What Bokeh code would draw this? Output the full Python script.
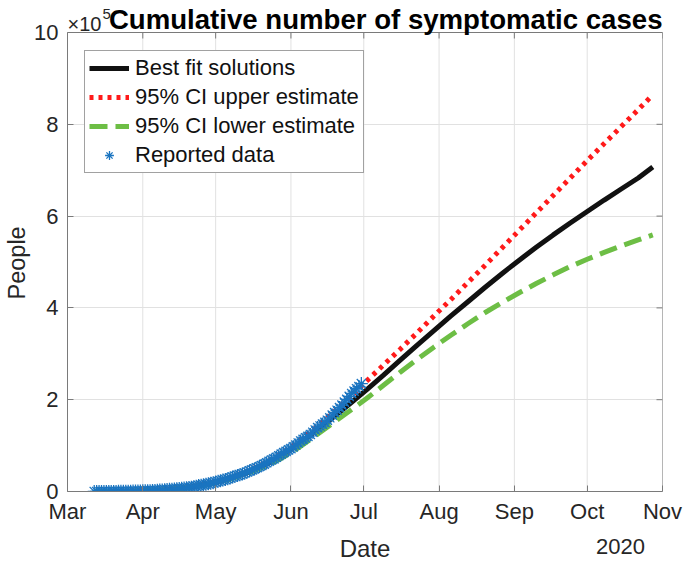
import numpy as np
import pandas as pd
from bokeh.plotting import figure
from bokeh.layouts import column
from bokeh.models import FixedTicker, Range1d, Legend, LegendItem, Title
from bokeh.core.properties import value
from bokeh.embed import file_html
from bokeh.resources import INLINE

# ---------------- data ----------------
report_start = "2020-03-12"
reported_cases = [
    12, 26, 41, 53, 82, 93, 118, 164, 203, 251, 316, 367, 405, 475, 585, 717, 848, 993, 1094, 1215,
    1378, 1510, 1688, 1890, 2143, 2439, 2785, 3181, 3441, 3844, 4219, 4661, 5014, 5399, 5847, 6297,
    6875, 7497, 8261, 8772, 9501, 10544, 11633, 12872, 13842, 14677, 15529, 16752, 17799, 19224,
    20739, 22088, 23471, 24905, 26025, 27634, 29616, 31522, 33460, 35022, 36327, 38324, 40186,
    42595, 45032, 47144, 49219, 51633, 54346, 56594, 59567, 62527, 65856, 68620, 71105, 74560,
    78023, 81400, 84627, 87512, 90664,
    93435, 97326, 101238, 105680, 110026, 113619, 117103, 120102, 124301, 129184, 133974, 139196,
    142690, 146837, 150564, 155363, 160593, 166455, 171885, 177002, 182745, 188122, 194710, 200647,
    207351, 213592, 218802, 223852, 228657, 235089,
]

curve_dates = [
    "2020-03-12", "2020-03-19", "2020-03-26", "2020-04-02", "2020-04-09", "2020-04-16",
    "2020-04-23", "2020-04-30", "2020-05-07", "2020-05-14", "2020-05-21", "2020-05-28",
    "2020-06-04", "2020-06-11", "2020-06-18", "2020-06-25", "2020-07-02", "2020-07-09",
    "2020-07-16", "2020-07-23", "2020-07-30", "2020-08-06", "2020-08-13", "2020-08-20",
    "2020-08-27", "2020-09-03", "2020-09-10", "2020-09-17", "2020-09-24", "2020-10-01",
    "2020-10-08", "2020-10-15", "2020-10-22", "2020-10-28",
]
# values in units of 10^5 people
best_fit = [0.0, 0.002, 0.006, 0.016, 0.035, 0.065, 0.115, 0.18, 0.28, 0.41, 0.57, 0.77,
            1.02, 1.31, 1.60, 1.90, 2.21, 2.53, 2.86, 3.19, 3.51, 3.83, 4.14, 4.45,
            4.75, 5.04, 5.32, 5.59, 5.85, 6.10, 6.35, 6.59, 6.83, 7.07]
upper_ci = [0.0, 0.002, 0.006, 0.016, 0.036, 0.068, 0.12, 0.19, 0.30, 0.44, 0.61, 0.82,
            1.08, 1.38, 1.70, 2.04, 2.40, 2.75, 3.10, 3.46, 3.83, 4.19, 4.56, 4.93,
            5.31, 5.69, 6.07, 6.45, 6.83, 7.21, 7.58, 7.95, 8.32, 8.64]
lower_ci = [0.0, 0.002, 0.006, 0.016, 0.034, 0.063, 0.11, 0.18, 0.27, 0.39, 0.54, 0.72,
            0.95, 1.21, 1.48, 1.75, 2.02, 2.31, 2.60, 2.88, 3.15, 3.41, 3.66, 3.90,
            4.12, 4.33, 4.53, 4.72, 4.90, 5.06, 5.21, 5.35, 5.48, 5.59]

month_ticks = ["2020-03-01", "2020-04-01", "2020-05-01", "2020-06-01", "2020-07-01",
               "2020-08-01", "2020-09-01", "2020-10-01", "2020-11-01"]
month_labels = ["Mar", "Apr", "May", "Jun", "Jul", "Aug", "Sep", "Oct", "Nov"]
y_ticks = [0, 2, 4, 6, 8, 10]
y_labels = ["0", "2", "4", "6", "8", "10"]

title_text = "Cumulative number of symptomatic cases"
scale_text, scale_exp = "\u00d710", "5"
y_label = "People"
x_label, year_label = "Date", "2020"

# ---------------- layout constants (pixels) ----------------
FONT = "Liberation Sans"
AX = "#262626"
AXLINE = "#7a7a7a"
W = 683
BL, BR = 66, 21          # left / right borders
BOX_TOP, BOX_BOT = 32, 491  # plot box in page pixels
BB = 35                  # bottom border (tick labels)
BOT_H = 561 - BOX_BOT - BB
FW = W - BL - BR
BOX_H = BOX_BOT - BOX_TOP

def ms(d):
    return pd.Timestamp(d).value / 1e6

rep_x = pd.date_range(report_start, periods=len(reported_cases), freq="D")
rep_y = np.array(reported_cases) / 1e5
cx = pd.to_datetime(curve_dates)
tick_ms = [ms(d) for d in month_ticks]
x0, x1 = tick_ms[0], tick_ms[-1]
y0, y1 = y_ticks[0], y_ticks[-1]
ppu = BOX_H / (y1 - y0)                 # pixels per y unit
y_top = y1 + BOX_TOP / ppu              # frame extends up to the page top

def px_x(px):
    return x0 + (px - BL) / FW * (x1 - x0)

def px_y(py):
    return (BOX_BOT - py) / ppu

# ---------------- main plot ----------------
p = figure(width=W, height=BOX_BOT + BB, x_axis_type="datetime", output_backend="svg",
           toolbar_location=None, title=None,
           x_range=Range1d(x0, x1), y_range=Range1d(y0, y_top),
           min_border_left=BL, min_border_right=BR, min_border_top=0, min_border_bottom=BB)
p.outline_line_color = None
p.background_fill_color = "white"
p.border_fill_color = "white"

xt = FixedTicker(ticks=tick_ms)
yt = FixedTicker(ticks=y_ticks)

xa = p.xaxis[0]
xa.ticker = xt
xa.major_label_overrides = {t: l for t, l in zip(tick_ms, month_labels)}
ya = p.yaxis[0]
ya.ticker = yt
ya.bounds = (y0, y1)
ya.major_label_overrides = {t: l for t, l in zip(y_ticks, y_labels)}

for ax in (xa, ya):
    ax.axis_line_color = AXLINE
    ax.major_tick_line_color = AXLINE
    ax.major_tick_in = 6
    ax.major_tick_out = 0
    ax.minor_tick_line_color = None
    ax.major_label_text_font = FONT
    ax.major_label_text_font_size = "22px"
    ax.major_label_text_color = AX
xa.major_label_standoff = 7
ya.major_label_standoff = 9

# y axis title, placed with the layout on the left
yt_title = Title(text=y_label, align="left", offset=BOX_BOT - 299, standoff=3,
                 text_font=FONT, text_font_size="23.5px", text_font_style="normal",
                 text_color=AX)
p.add_layout(yt_title, "left")

# grid: horizontal lines from axis, vertical lines limited to the box
p.xgrid.visible = False
p.ygrid.ticker = yt
p.ygrid.grid_line_color = "#e1e1e1"
p.ygrid.grid_line_width = 1
p.segment(x0=tick_ms, y0=[y0] * len(tick_ms), x1=tick_ms, y1=[y1] * len(tick_ms),
          line_color="#e1e1e1", line_width=1)

# box: top and right edges + mirrored inward ticks
tick_len_y = 6 / ppu
tick_len_x = 6 / FW * (x1 - x0)
p.segment(x0=[x0, x1], y0=[y1, y0], x1=[x1, x1], y1=[y1, y1], line_color=AXLINE, line_width=1)
p.segment(x0=tick_ms, y0=[y1] * len(tick_ms), x1=tick_ms, y1=[y1 - tick_len_y] * len(tick_ms),
          line_color=AXLINE, line_width=1)
p.segment(x0=[x1] * len(y_ticks), y0=y_ticks, x1=[x1 - tick_len_x] * len(y_ticks), y1=y_ticks,
          line_color=AXLINE, line_width=1)

r_best = p.line(cx, best_fit, line_color="#111111", line_width=5)
r_up = p.line(cx, upper_ci, line_color="#ff1a1a", line_width=5, line_dash="4 5")
r_low = p.line(cx, lower_ci, line_color="#6dbe45", line_width=5, line_dash="18 8")
r_rep = p.scatter(rep_x, rep_y, marker="asterisk", size=13, line_color="#1a74c0",
                  line_width=1.3)

# title row, drawn inside the (extended) frame
p.text(x=[px_x(BL + FW)], y=[px_y(19)], text=[title_text], text_font=value(FONT),
       text_font_size="27.6px", text_font_style="bold", text_color="#000000",
       text_align="right", text_baseline="alphabetic")
p.text(x=[px_x(BL)], y=[px_y(23)], text=[scale_text], text_font=value(FONT),
       text_font_size="20px", text_color=AX, text_align="left", text_baseline="alphabetic")
p.text(x=[px_x(BL + 35)], y=[px_y(13)], text=[scale_exp], text_font=value(FONT),
       text_font_size="15px", text_color=AX, text_align="left", text_baseline="alphabetic")

legend = Legend(items=[
    LegendItem(label="Best fit solutions", renderers=[r_best]),
    LegendItem(label="95% CI upper estimate", renderers=[r_up]),
    LegendItem(label="95% CI lower estimate", renderers=[r_low]),
    LegendItem(label="Reported data", renderers=[r_rep]),
], location=(17, 318))
legend.label_text_font = FONT
legend.label_text_font_size = "22px"
legend.label_text_color = "#111111"
legend.glyph_width = 40
legend.glyph_height = 22
legend.label_height = 22
legend.spacing = 3
legend.padding = 4
legend.margin = 0
legend.label_standoff = 6
legend.border_line_color = "#444444"
legend.border_line_width = 1
legend.background_fill_color = "white"
legend.background_fill_alpha = 1
p.add_layout(legend)

# ---------------- bottom strip: axis title and year ----------------
bot = figure(width=W, height=BOT_H, output_backend="svg", toolbar_location=None, title=None,
             x_range=Range1d(BL, W - BR), y_range=Range1d(0, BOT_H),
             x_axis_location=None, y_axis_location=None,
             min_border_left=BL, min_border_right=BR, min_border_top=0, min_border_bottom=0)
bot.outline_line_color = None
bot.grid.visible = False
bot.background_fill_color = "white"
bot.border_fill_color = "white"
bot.text(x=[BL + FW / 2], y=[13], text=[x_label], text_font=value(FONT),
         text_font_size="24px", text_color=AX, text_align="center", text_baseline="middle")
bot.text(x=[620], y=[15], text=[year_label], text_font=value(FONT),
         text_font_size="22px", text_color=AX, text_align="center", text_baseline="middle")

layout = column(p, bot, spacing=0)
open("out.html", "w").write(file_html(layout, INLINE))
